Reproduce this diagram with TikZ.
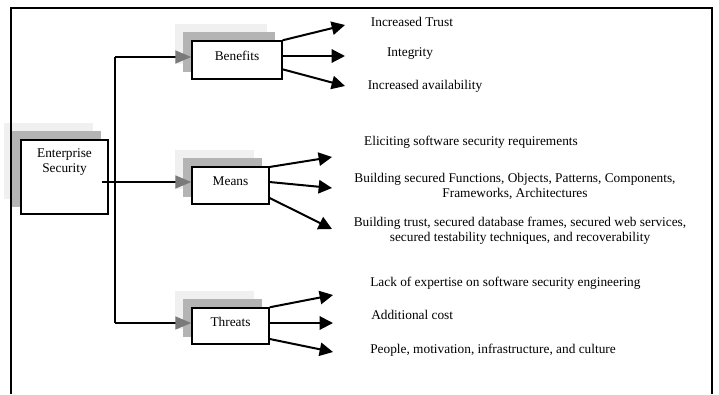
\documentclass[tikz,border=0pt]{standalone}
\usepackage{fontspec}
\setmainfont{Liberation Serif}
\usetikzlibrary{arrows.meta,backgrounds}
\definecolor{shlight}{HTML}{F0F0F0}
\definecolor{shdark}{HTML}{B4B4B4}
\definecolor{tipgray}{HTML}{7A7A7A}
\begin{document}
\begin{tikzpicture}[x=0.75pt,y=-0.75pt,
  every node/.style={font=\fontsize{10}{11.5}\selectfont},
  boxnode/.style={draw=black,line width=1.1pt,fill=white,inner sep=0pt},
  txt/.style={inner sep=0pt,align=center},
  ltxt/.style={inner sep=0pt,anchor=west},
  trunkline/.style={line width=1.2pt},
  feed/.style={line width=1.2pt,-{Triangle[length=12pt,width=9.75pt,color=tipgray]}},
  outarrow/.style={line width=1.5pt,-{Triangle[length=10pt,width=10pt]}},
  lightsh/.style={fill=shlight},
  darksh/.style={fill=shdark}]
\useasboundingbox (0,0) rectangle (719,394);
% frame
\draw[line width=1.1pt] (11,394) -- (11,8) -- (712,8) -- (712,394);
% boxes
\node[boxnode,minimum width=65.25pt,minimum height=55.5pt,
  label={[txt,yshift=11.25pt]center:Enterprise\\Security}] (es) at (64.5,177) {};
\node[boxnode,minimum width=67.5pt,minimum height=28.5pt,
  label={[txt,yshift=3pt]center:Benefits}] (ben) at (237,60) {};
\node[boxnode,minimum width=57.75pt,minimum height=27.75pt,
  label={[txt,yshift=3pt]center:Means}] (mea) at (230.5,185.5) {};
\node[boxnode,minimum width=57.75pt,minimum height=27pt,
  label={[txt,yshift=3pt]center:Threats}] (thr) at (230.5,326) {};
% shadows
\begin{pgfonlayer}{background}
\foreach \n in {es,ben,mea,thr}{
  \fill[lightsh] ([shift={(-16,-16)}]\n.south west) rectangle ([shift={(-16,-16)}]\n.north east);
  \fill[darksh] ([shift={(-8,-8)}]\n.south west) rectangle ([shift={(-8,-8)}]\n.north east);
}
\end{pgfonlayer}
% texts
\node[txt] (t1) at (412,22) {Increased Trust};
\node[txt] (t2) at (410,54) {Integrity};
\node[txt] (t3) at (425,86) {Increased availability};
\node[txt] (t4) at (471,142) {Eliciting software security requirements};
\node[txt] (t5) at (515,186.5) {Building secured Functions, Objects, Patterns, Components,\\Frameworks, Architectures};
\node[txt] (t6) at (520,230.5) {Building trust, secured database frames, secured web services,\\secured testability techniques, and recoverability};
\node[ltxt] (t7) at (370,283) {Lack of expertise on software security engineering};
\node[ltxt] (t8) at (371,315) {Additional cost};
\node[ltxt] (t9) at (370,350) {People, motivation, infrastructure, and culture};
% connector coordinates
\coordinate (esout) at (102,182);
\coordinate (jt) at (115,57);
\coordinate (jm) at (115,182);
\coordinate (jb) at (115,323);
\draw[trunkline] (jt) -- (jb);
\draw[feed] (esout) -- (jm) -- (mea.west |- jm);
\draw[feed] (jt) -- (ben.west |- jt);
\draw[feed] (jb) -- (thr.west |- jb);
% output arrow ends
\coordinate (b1) at (345,25);
\coordinate (b2) at (345,56);
\coordinate (b3) at (345,86);
\coordinate (m1) at (332,157);
\coordinate (m2) at (332,188);
\coordinate (m3) at (332,229);
\coordinate (r1) at (333,295);
\coordinate (r2) at (333,323);
\coordinate (r3) at (333,352);
\draw[outarrow] (ben.north east) -- (b1);
\draw[outarrow] (ben.east |- b2) -- (b2);
\draw[outarrow] ([yshift=-7pt]ben.east) -- (b3);
\draw[outarrow] ([yshift=-0.5pt]mea.north east) -- (m1);
\draw[outarrow] ([yshift=2.6pt]mea.east) -- (m2);
\draw[outarrow] ([yshift=-9.4pt]mea.east) -- (m3);
\draw[outarrow] (thr.north east) -- (r1);
\draw[outarrow] (thr.east |- r2) -- (r2);
\draw[outarrow] ([yshift=-9.75pt]thr.east) -- (r3);
\end{tikzpicture}
\end{document}
